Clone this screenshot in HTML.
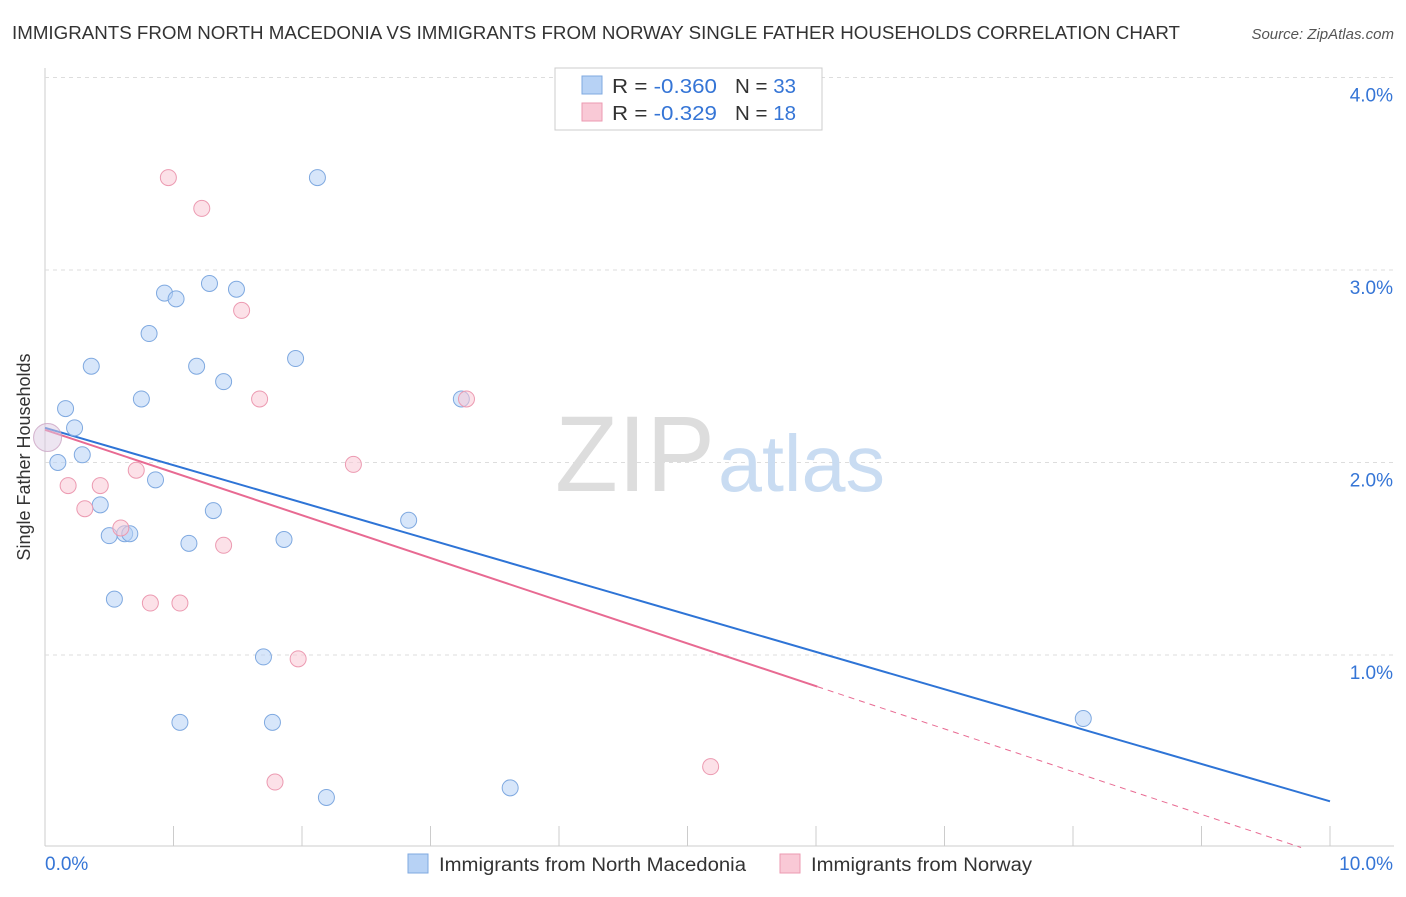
<!DOCTYPE html>
<html><head><meta charset="utf-8"><style>
body{margin:0;background:#fff;font-family:"Liberation Sans",sans-serif;}
svg text{font-family:"Liberation Sans",sans-serif;}
</style></head><body>
<svg id="chart" width="1406" height="892">
<text x="12" y="39" font-size="18" fill="#333" textLength="1168" lengthAdjust="spacingAndGlyphs">IMMIGRANTS FROM NORTH MACEDONIA VS IMMIGRANTS FROM NORWAY SINGLE FATHER HOUSEHOLDS CORRELATION CHART</text>
<text x="1394" y="39" font-size="15" fill="#555" font-style="italic" text-anchor="end">Source: ZipAtlas.com</text>
<text x="30" y="457" font-size="18" fill="#333" transform="rotate(-90 30 457)" text-anchor="middle">Single Father Households</text>
<g id="grid"></g>
<text x="555" y="491" font-size="108" fill="#ddd" textLength="160" lengthAdjust="spacingAndGlyphs" font-family="Liberation Serif">ZIP</text>
<text x="718" y="491" font-size="80" fill="#c9dcf2" textLength="167" lengthAdjust="spacingAndGlyphs">atlas</text>
<g id="lines"></g>
<g id="points"></g>
<g>
<rect x="555" y="68" width="267" height="62" fill="#fff" stroke="#ccc"/>
<rect x="582" y="76" width="20" height="18" fill="#b7d2f5" stroke="#7fa9e0"/>
<text x="612" y="93" font-size="20" fill="#333" textLength="105" lengthAdjust="spacingAndGlyphs">R = <tspan fill="#3575d6">-0.360</tspan></text>
<text x="735" y="93" font-size="20" fill="#333" textLength="61" lengthAdjust="spacingAndGlyphs">N = <tspan fill="#3575d6">33</tspan></text>
<rect x="582" y="103" width="20" height="18" fill="#f9c9d6" stroke="#ec9ab1"/>
<text x="612" y="120" font-size="20" fill="#333" textLength="105" lengthAdjust="spacingAndGlyphs">R = <tspan fill="#3575d6"> -0.329</tspan></text>
<text x="735" y="120" font-size="20" fill="#333" textLength="61" lengthAdjust="spacingAndGlyphs">N = <tspan fill="#3575d6"> 18</tspan></text>
</g>
<g>
<rect x="408" y="854" width="20" height="19" fill="#b7d2f5" stroke="#7fa9e0"/>
<text x="439" y="871" font-size="19" fill="#333" textLength="307" lengthAdjust="spacingAndGlyphs">Immigrants from North Macedonia</text>
<rect x="780" y="854" width="20" height="19" fill="#f9c9d6" stroke="#ec9ab1"/>
<text x="811" y="871" font-size="19" fill="#333" textLength="221" lengthAdjust="spacingAndGlyphs">Immigrants from Norway</text>
</g>
</svg>
<script>
const xTicks=[0,1,2,3,4,5,6,7,8,9,10];
const yTicks=[1,2,3,4];
const yTickLabels=["1.0%","2.0%","3.0%","4.0%"];
const blueX=[2.12,0.93,1.02,1.28,1.49,0.81,0.36,1.18,1.95,1.39,0.75,0.16,3.24,0.23,0.29,0.10,0.86,0.43,1.31,2.83,0.50,0.62,0.66,1.12,1.86,0.54,1.70,1.05,1.77,8.08,2.19,3.62,0.02];
const blueY=[3.48,2.88,2.85,2.93,2.90,2.67,2.50,2.50,2.54,2.42,2.33,2.28,2.33,2.18,2.04,2.00,1.91,1.78,1.75,1.70,1.62,1.63,1.63,1.58,1.60,1.29,0.99,0.65,0.65,0.67,0.26,0.31,2.13];
const pinkX=[0.96,1.22,1.53,1.67,3.28,2.40,0.71,0.18,0.43,0.31,0.59,1.39,0.82,1.05,1.97,1.79,5.18,0.02];
const pinkY=[3.48,3.32,2.79,2.33,2.33,1.99,1.96,1.88,1.88,1.76,1.66,1.57,1.27,1.27,0.98,0.34,0.42,2.13];
const blueTrend=[2.18,-0.194];
const pinkTrend=[2.17,-0.222];
const pinkSolidEnd=6.01;
const ns="http://www.w3.org/2000/svg";
const X=v=>45+v*128.5, Y=v=>847.5-v*192.5;
function mk(t,a,p){const e=document.createElementNS(ns,t);for(const k in a)e.setAttribute(k,a[k]);p.appendChild(e);return e;}
const grid=document.getElementById('grid');
mk('line',{x1:45,y1:68,x2:45,y2:846,stroke:'#ccc'},grid);
mk('line',{x1:45,y1:846,x2:1394,y2:846,stroke:'#ccc'},grid);
yTicks.forEach((t,i)=>{
 const g=mk('line',{x1:45,y1:Y(t),x2:1394,y2:Y(t),stroke:'#ddd','stroke-dasharray':'4,4'},grid);
 
 
 const l=mk('text',{x:1393,y:Y(t)+24,'font-size':19,fill:'#3575d6','text-anchor':'end'},grid);
 l.textContent=yTickLabels[i];
 
 
});
xTicks.forEach(t=>{
 const tk=mk('line',{x1:X(t),y1:826,x2:X(t),y2:846,stroke:'#ccc'},grid);
 
 
});
const xl=mk('text',{x:45,y:870,'font-size':19,fill:'#3575d6'},grid);xl.textContent="0.0%";


const xr=mk('text',{x:1393,y:870,'font-size':19,fill:'#3575d6','text-anchor':'end'},grid);xr.textContent="10.0%";


const pts=document.getElementById('points');
function dots(xs,ys,fill,stroke,name){xs.forEach((x,i)=>{
 const last=i===xs.length-1&&x<0.1;
 const c=mk('circle',{cx:X(x),cy:Y(ys[i]),r:last?14:8,fill:fill,'fill-opacity':last?0.3:0.55,stroke:stroke,'stroke-width':1,'stroke-opacity':last?0.5:1},pts);
 
 
});}
dots(blueX,blueY,'#b7d2f5','#7fa9e0','point-north-macedonia');
dots(pinkX,pinkY,'#f9c9d6','#ec9ab1','point-norway');
const ln=document.getElementById('lines');
const b=mk('line',{x1:X(0),y1:Y(blueTrend[0]),x2:X(10),y2:Y(blueTrend[0]+blueTrend[1]*10),stroke:'#2e74d6','stroke-width':2},ln);


const p=mk('line',{x1:X(0),y1:Y(pinkTrend[0]),x2:X(pinkSolidEnd),y2:Y(pinkTrend[0]+pinkTrend[1]*pinkSolidEnd),stroke:'#e86a92','stroke-width':2},ln);


const xe=-pinkTrend[0]/pinkTrend[1];
const pd=mk('line',{x1:X(pinkSolidEnd),y1:Y(pinkTrend[0]+pinkTrend[1]*pinkSolidEnd),x2:X(xe),y2:Y(0),stroke:'#e86a92','stroke-width':1,'stroke-dasharray':'6,5'},ln);


</script>
</body></html>
